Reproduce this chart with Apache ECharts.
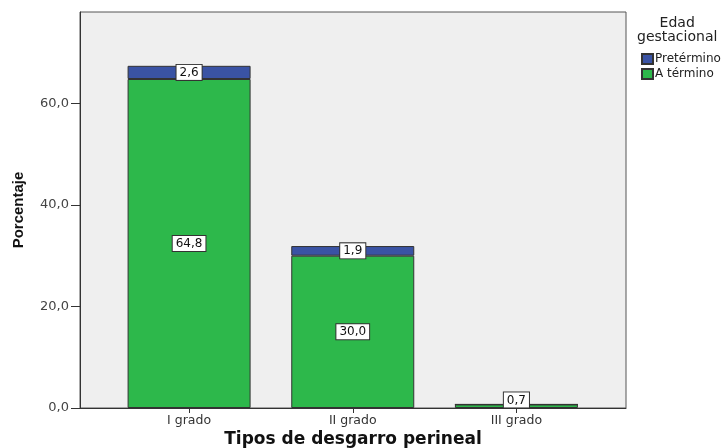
<!DOCTYPE html>
<html>
<head>
<meta charset="utf-8">
<script src="https://cdn.jsdelivr.net/npm/echarts@6/dist/echarts.min.js"></script>
<style>
	html, body { margin: 0; padding: 0; background: #fff; }
	#chart { width: 726px; height: 448px; }
</style>
</head>
<body>
<div id="chart"></div>
<script>
// datos
var categories = ["I grado", "II grado", "III grado"];
var aTermino = [64.8, 30.0, 0.7];
var pretermino = [2.6, 1.9, 0];
var yTicks = [0, 20, 40, 60];

function fmt(v) {
	return v.toFixed(1).replace(".", ",");
}

var font = "DejaVu Sans";
var boxLabel = {
	show: true,
	position: "inside",
	color: "#111",
	fontFamily: font,
	fontSize: 12,
	backgroundColor: "#fff",
	borderColor: "#333",
	borderWidth: 1,
	padding: [2, 3, 1, 3],
	formatter: function (p) {
		return fmt(p.value);
	}
};

var terminoData = aTermino.map(function (v) {
	var item = { value: v };
	// barra muy baja: etiqueta encima
	if (v < 2) {
		item.label = { position: "top", distance: -3 };
	}
	return item;
});
var pretData = pretermino.map(function (v) {
	var item = { value: v };
	if (v === 0) {
		item.label = { show: false };
	}
	return item;
});

var myChart = echarts.init(document.getElementById("chart"), null, { renderer: "canvas" });
var option = {
	animation: false,
	graphic: [
		{
			type: "text",
			left: 637,
			top: 16,
			style: {
				text: "Edad\ngestacional",
				textAlign: "center",
				x: 40,
				font: "14px " + font,
				fill: "#222",
				lineHeight: 14
			}
		}
	],
	legend: {
		orient: "vertical",
		left: 636,
		top: 48,
		itemWidth: 11,
		itemHeight: 10,
		itemGap: 3,
		icon: "rect",
		textStyle: { fontFamily: font, fontSize: 12, color: "#222", padding: [0, 0, 0, -3] },
		data: ["Pretérmino", "A término"]
	},
	// grid 0: marco gris, grid 1: barras
	grid: [
		{
			left: 80,
			right: 100,
			top: 12,
			bottom: 40,
			containLabel: false,
			outerBoundsMode: "none",
			show: true,
			backgroundColor: "#efefef",
			borderColor: "#555",
			borderWidth: 1
		},
		{
			left: 107.25,
			right: 127.75,
			top: 12,
			bottom: 40,
			containLabel: false,
			outerBoundsMode: "none"
		}
	],
	xAxis: [
		{
			type: "category",
			gridIndex: 0,
			data: [""],
			name: "Tipos de desgarro perineal",
			nameLocation: "middle",
			nameGap: 23,
			nameTextStyle: { fontFamily: font, fontSize: 17, fontWeight: "bold", color: "#111" },
			axisLine: { show: true, lineStyle: { color: "#333" } },
			axisTick: { show: false },
			axisLabel: { show: false }
		},
		{
			type: "category",
			gridIndex: 1,
			data: categories,
			axisLine: { show: false },
			axisTick: { show: true, alignWithLabel: true, length: 5, lineStyle: { color: "#333" } },
			axisLabel: { fontFamily: font, fontSize: 12.5, color: "#333", margin: 6 }
		}
	],
	yAxis: [
		{
			type: "value",
			gridIndex: 0,
			min: 0,
			max: 78,
			name: "Porcentaje",
			nameLocation: "middle",
			nameGap: 54,
			nameTextStyle: { fontFamily: "Liberation Sans", fontSize: 15, fontWeight: "bold", color: "#111" },
			splitLine: { show: false },
			axisLine: { show: true, lineStyle: { color: "#333" } },
			axisTick: { show: true, length: 9, customValues: yTicks, lineStyle: { color: "#333" } },
			axisLabel: {
				customValues: yTicks,
				fontFamily: font,
				fontSize: 13,
				color: "#444",
				margin: 11,
				formatter: function (v) {
					return fmt(v);
				}
			}
		},
		{
			type: "value",
			gridIndex: 1,
			min: 0,
			max: 78,
			show: false,
			splitLine: { show: false }
		}
	],
	series: [
		{
			name: "A término",
			type: "bar",
			stack: "total",
			xAxisIndex: 1,
			yAxisIndex: 1,
			barWidth: 123,
			itemStyle: { color: "#2db84b", borderColor: "#333", borderWidth: 1 },
			label: boxLabel,
			data: terminoData
		},
		{
			name: "Pretérmino",
			type: "bar",
			stack: "total",
			xAxisIndex: 1,
			yAxisIndex: 1,
			barWidth: 123,
			itemStyle: { color: "#3a53a4", borderColor: "#333", borderWidth: 1 },
			label: boxLabel,
			data: pretData
		}
	]
};
myChart.setOption(option);
</script>
</body>
</html>
